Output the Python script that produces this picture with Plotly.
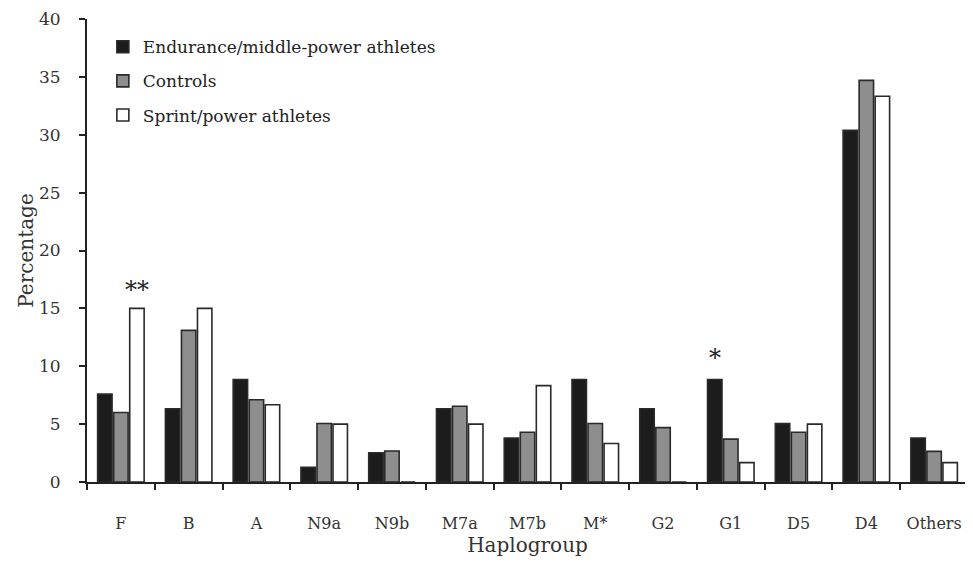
import plotly.graph_objects as go

categories = ["F", "B", "A", "N9a", "N9b", "M7a", "M7b", "M*", "G2", "G1", "D5", "D4", "Others"]
endurance = [7.59, 6.33, 8.86, 1.27, 2.53, 6.33, 3.80, 8.86, 6.33, 8.86, 5.06, 30.38, 3.80]
controls = [6.0, 13.1, 7.1, 5.05, 2.68, 6.55, 4.3, 5.05, 4.7, 3.7, 4.3, 34.7, 2.65]
sprint = [15.0, 15.0, 6.67, 5.0, 0.0, 5.0, 8.33, 3.33, 0.0, 1.67, 5.0, 33.33, 1.67]
y_ticks = [0, 5, 10, 15, 20, 25, 30, 35, 40]

FONT = "DejaVu Serif, serif"
edge = "#2a2a2a"

fig = go.Figure()
series = [
    ("Endurance/middle-power athletes", endurance, "#1c1c1c"),
    ("Controls", controls, "#8e8e8e"),
    ("Sprint/power athletes", sprint, "#ffffff"),
]
for i, (name, vals, col) in enumerate(series):
    fig.add_trace(go.Bar(
        x=categories, y=vals, name=name, legendgroup=f"g{i}",
        marker=dict(color=col, line=dict(color=edge, width=1.6)),
    ))

fig.add_annotation(x="F", y=15.2, text="**", showarrow=False, xshift=16,
                   yanchor="bottom", font=dict(family=FONT, size=24, color="#222"))
fig.add_annotation(x="G1", y=9.3, text="*", showarrow=False, xshift=-16,
                   yanchor="bottom", font=dict(family=FONT, size=24, color="#222"))

# page body has an 8px margin, so the figure is sized and offset to compensate
fig.update_layout(
    width=965, height=554,
    margin=dict(l=79, r=5, t=11, b=80),
    paper_bgcolor="white", plot_bgcolor="white",
    barmode="group", bargap=0.29, bargroupgap=0.1,
    font=dict(family=FONT, color="#333333", size=16),
    showlegend=True,
    legend=dict(x=0.018, y=0.978, xanchor="left", yanchor="top",
                bgcolor="rgba(0,0,0,0)", font=dict(family=FONT, size=17, color="#222"),
                traceorder="grouped", tracegroupgap=9),
    xaxis=dict(
        type="category", range=[-0.5, 12.5], automargin=False,
        showline=True, linecolor="#222", linewidth=2,
        ticks="outside", tickson="boundaries", ticklen=6, tickwidth=1.5, tickcolor="#222",
        tickfont=dict(family=FONT, size=16, color="#333"),
        ticklabelstandoff=26,
        title=dict(text="Haplogroup", font=dict(family=FONT, size=20, color="#333"), standoff=6),
        showgrid=False, zeroline=False,
    ),
    yaxis=dict(
        range=[0, 40], tickvals=y_ticks, automargin=False,
        showline=True, linecolor="#222", linewidth=2,
        ticks="outside", ticklen=6, tickwidth=1.5, tickcolor="#222",
        tickfont=dict(family=FONT, size=17, color="#333"),
        ticklabelstandoff=15,
        title=dict(text="Percentage", font=dict(family=FONT, size=20, color="#333"), standoff=0),
        showgrid=False, zeroline=False,
    ),
)

fig.write_html("out.html")
